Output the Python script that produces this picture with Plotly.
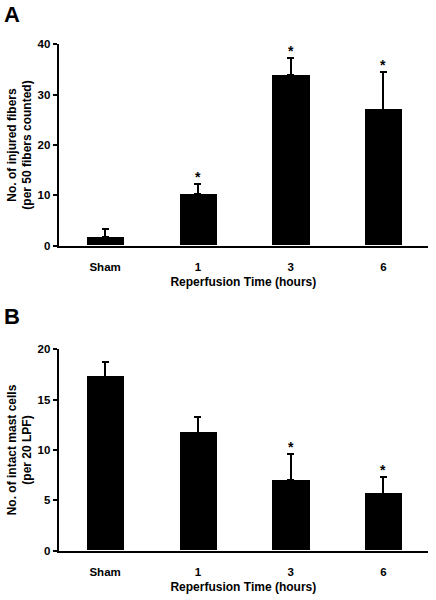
import plotly.graph_objects as go

categories = ["Sham", "1", "3", "6"]

injured_mean = [1.7, 10.2, 33.9, 27.0]
injured_sem = [1.7, 2.0, 3.35, 7.5]
injured_sig = [False, True, True, True]

mast_mean = [17.28, 11.72, 6.99, 5.66]
mast_sem = [1.46, 1.58, 2.64, 1.66]
mast_sig = [False, False, True, True]

yticks_a = [0, 10, 20, 30, 40]
yticks_b = [0, 5, 10, 15, 20]

FONT = "Liberation Sans, Arial, sans-serif"
W, H = 436, 600

def px_x(p):
    return p / W

def px_y(p):
    return 1 - p / H

fig = go.Figure()

fig.add_trace(go.Bar(
    x=categories, y=injured_mean, width=0.4,
    marker=dict(color="black", line=dict(width=0)),
    error_y=dict(type="data", array=injured_sem, arrayminus=[0] * 4,
                 symmetric=False, color="black", thickness=2, width=3.5),
    xaxis="x", yaxis="y", showlegend=False))

fig.add_trace(go.Bar(
    x=categories, y=mast_mean, width=0.4,
    marker=dict(color="black", line=dict(width=0)),
    error_y=dict(type="data", array=mast_sem, arrayminus=[0] * 4,
                 symmetric=False, color="black", thickness=2, width=3.5),
    xaxis="x2", yaxis="y2", showlegend=False))

xdom = [px_x(58.7), px_x(428)]
axis_font = dict(family=FONT, size=11.5, color="black", weight="bold")
title_font = dict(family=FONT, size=12, color="black", weight="bold")

common_x = dict(
    type="category", range=[-0.5, 3.48], domain=xdom, automargin=False,
    showline=True, linecolor="black", linewidth=2,
    ticks="", showgrid=False, zeroline=False,
    tickfont=axis_font, ticklabelstandoff=9,
    title=dict(text="Reperfusion Time (hours)", font=title_font, standoff=6),
)
common_y = dict(
    showline=True, linecolor="black", linewidth=2, automargin=False,
    ticks="outside", ticklen=4, tickwidth=1.5, tickcolor="black",
    showgrid=False, zeroline=False, tickfont=axis_font,
)

fig.update_layout(
    width=W, height=H,
    margin=dict(l=0, r=0, t=0, b=0),
    paper_bgcolor="white", plot_bgcolor="white",
    bargap=0,
    xaxis=dict(common_x, anchor="y"),
    yaxis=dict(common_y, domain=[px_y(245.7), px_y(44.3)], range=[0, 40],
               tickvals=yticks_a, anchor="x",
               title=dict(text="No. of injured fibers<br>(per 50 fibers counted)",
                          font=title_font, standoff=3)),
    xaxis2=dict(common_x, anchor="y2"),
    yaxis2=dict(common_y, domain=[px_y(550.7), px_y(349.3)], range=[0, 20],
                tickvals=yticks_b, anchor="x2",
                title=dict(text="No. of intact mast cells<br>(per 20 LPF)",
                           font=title_font, standoff=3)),
)

star_font = dict(family=FONT, size=14, color="black", weight="bold")
annotations = []
for i, (m, e, s) in enumerate(zip(injured_mean, injured_sem, injured_sig)):
    if s:
        annotations.append(dict(x=i, y=m + e, xref="x", yref="y", text="*",
                                showarrow=False, yanchor="bottom", yshift=-3,
                                font=star_font))
for i, (m, e, s) in enumerate(zip(mast_mean, mast_sem, mast_sig)):
    if s:
        annotations.append(dict(x=i, y=m + e, xref="x2", yref="y2", text="*",
                                showarrow=False, yanchor="bottom", yshift=-3,
                                font=star_font))

annotations.append(dict(x=px_x(2), y=px_y(0), xref="paper", yref="paper", text="A",
                        showarrow=False, xanchor="left", yanchor="top",
                        font=dict(family=FONT, size=22, color="black", weight="bold")))
annotations.append(dict(x=px_x(2), y=px_y(302), xref="paper", yref="paper", text="B",
                        showarrow=False, xanchor="left", yanchor="top",
                        font=dict(family=FONT, size=22, color="black", weight="bold")))
fig.update_layout(annotations=annotations)

fig.write_html("out.html", config={"displayModeBar": False},
               post_script="document.body.style.margin='0';")
